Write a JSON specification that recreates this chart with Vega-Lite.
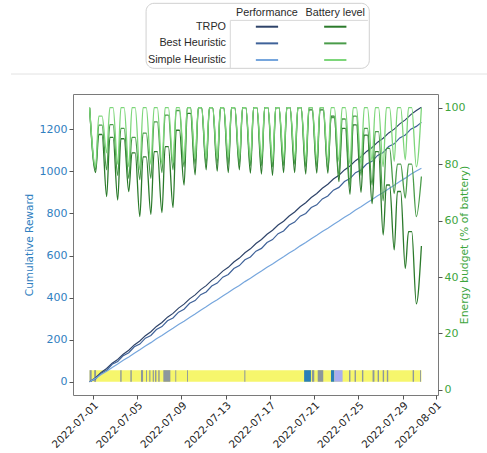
{
  "$schema": "https://vega.github.io/schema/vega-lite/v6.json",
  "padding": {"left": 10, "top": 0, "right": 0, "bottom": 0},
  "bounds": "flush",
  "spacing": 18,
  "config": {"font": "DejaVu Sans", "view": {"stroke": null}},
  "datasets": {
    "legendRows": [
      {"series": "TRPO", "r": 1},
      {"series": "Best Heuristic", "r": 2},
      {"series": "Simple Heuristic", "r": 3}
    ],
    "legendHeaders": [
      {"h": "Performance", "col": 1},
      {"h": "Battery level", "col": 2}
    ],
    "strip": [
      {"t": "2022-06-30T17:00", "t2": "2022-07-30T17:00", "action": "0"},
      {"t": "2022-06-30T17:00", "t2": "2022-06-30T21:30", "action": "1"},
      {"t": "2022-07-01T03:00", "t2": "2022-07-01T07:00", "action": "1"},
      {"t": "2022-07-03T11:30", "t2": "2022-07-03T14:30", "action": "1"},
      {"t": "2022-07-04T09:30", "t2": "2022-07-04T12:30", "action": "1"},
      {"t": "2022-07-05T08:30", "t2": "2022-07-05T13:00", "action": "1"},
      {"t": "2022-07-05T19:30", "t2": "2022-07-05T21:30", "action": "1"},
      {"t": "2022-07-06T02:30", "t2": "2022-07-06T05:00", "action": "1"},
      {"t": "2022-07-06T10:00", "t2": "2022-07-06T12:30", "action": "1"},
      {"t": "2022-07-06T15:00", "t2": "2022-07-06T18:00", "action": "1"},
      {"t": "2022-07-06T22:00", "t2": "2022-07-07T01:00", "action": "1"},
      {"t": "2022-07-07T09:00", "t2": "2022-07-08T00:15", "action": "1"},
      {"t": "2022-07-08T11:00", "t2": "2022-07-08T13:00", "action": "1"},
      {"t": "2022-07-09T12:30", "t2": "2022-07-09T14:30", "action": "1"},
      {"t": "2022-07-14T16:45", "t2": "2022-07-14T19:00", "action": "1"},
      {"t": "2022-07-20T02:30", "t2": "2022-07-20T17:15", "action": "2"},
      {"t": "2022-07-20T19:30", "t2": "2022-07-21T00:30", "action": "1"},
      {"t": "2022-07-21T08:00", "t2": "2022-07-21T20:00", "action": "1"},
      {"t": "2022-07-22T12:45", "t2": "2022-07-22T20:00", "action": "2"},
      {"t": "2022-07-22T20:00", "t2": "2022-07-23T14:00", "action": "3"},
      {"t": "2022-07-24T04:00", "t2": "2022-07-24T07:00", "action": "1"},
      {"t": "2022-07-24T16:00", "t2": "2022-07-24T19:00", "action": "1"},
      {"t": "2022-07-25T08:00", "t2": "2022-07-25T11:00", "action": "1"},
      {"t": "2022-07-26T07:00", "t2": "2022-07-26T11:00", "action": "1"},
      {"t": "2022-07-26T18:00", "t2": "2022-07-26T21:00", "action": "1"},
      {"t": "2022-07-27T05:00", "t2": "2022-07-27T08:00", "action": "1"},
      {"t": "2022-07-27T14:00", "t2": "2022-07-27T17:00", "action": "1"},
      {"t": "2022-07-29T22:00", "t2": "2022-07-30T01:00", "action": "1"},
      {"t": "2022-07-30T14:00", "t2": "2022-07-30T16:00", "action": "1"}
    ],
    "reward": [
      {"t": "2022-06-30T17:00", "TRPO": 0, "Best": 0, "Simple": 0},
      {"t": "2022-07-01T06:00", "TRPO": 19, "Best": 13, "Simple": 16},
      {"t": "2022-07-01T18:00", "TRPO": 44, "Best": 41, "Simple": 34},
      {"t": "2022-07-02T06:00", "TRPO": 63, "Best": 55, "Simple": 50},
      {"t": "2022-07-02T18:00", "TRPO": 88, "Best": 83, "Simple": 68},
      {"t": "2022-07-03T06:00", "TRPO": 106, "Best": 96, "Simple": 84},
      {"t": "2022-07-03T18:00", "TRPO": 131, "Best": 124, "Simple": 102},
      {"t": "2022-07-04T06:00", "TRPO": 150, "Best": 138, "Simple": 118},
      {"t": "2022-07-04T18:00", "TRPO": 175, "Best": 166, "Simple": 136},
      {"t": "2022-07-05T06:00", "TRPO": 194, "Best": 179, "Simple": 152},
      {"t": "2022-07-05T18:00", "TRPO": 219, "Best": 207, "Simple": 170},
      {"t": "2022-07-06T06:00", "TRPO": 238, "Best": 220, "Simple": 186},
      {"t": "2022-07-06T18:00", "TRPO": 263, "Best": 248, "Simple": 204},
      {"t": "2022-07-07T06:00", "TRPO": 282, "Best": 262, "Simple": 220},
      {"t": "2022-07-07T18:00", "TRPO": 307, "Best": 290, "Simple": 238},
      {"t": "2022-07-08T06:00", "TRPO": 325, "Best": 303, "Simple": 254},
      {"t": "2022-07-08T18:00", "TRPO": 350, "Best": 331, "Simple": 272},
      {"t": "2022-07-09T06:00", "TRPO": 369, "Best": 345, "Simple": 288},
      {"t": "2022-07-09T18:00", "TRPO": 394, "Best": 373, "Simple": 306},
      {"t": "2022-07-10T06:00", "TRPO": 413, "Best": 386, "Simple": 322},
      {"t": "2022-07-10T18:00", "TRPO": 438, "Best": 414, "Simple": 340},
      {"t": "2022-07-11T06:00", "TRPO": 457, "Best": 427, "Simple": 356},
      {"t": "2022-07-11T18:00", "TRPO": 482, "Best": 455, "Simple": 374},
      {"t": "2022-07-12T06:00", "TRPO": 501, "Best": 469, "Simple": 390},
      {"t": "2022-07-12T18:00", "TRPO": 526, "Best": 497, "Simple": 408},
      {"t": "2022-07-13T06:00", "TRPO": 544, "Best": 510, "Simple": 424},
      {"t": "2022-07-13T18:00", "TRPO": 569, "Best": 538, "Simple": 442},
      {"t": "2022-07-14T06:00", "TRPO": 588, "Best": 552, "Simple": 458},
      {"t": "2022-07-14T18:00", "TRPO": 613, "Best": 580, "Simple": 476},
      {"t": "2022-07-15T06:00", "TRPO": 632, "Best": 593, "Simple": 492},
      {"t": "2022-07-15T18:00", "TRPO": 657, "Best": 621, "Simple": 510},
      {"t": "2022-07-16T06:00", "TRPO": 676, "Best": 634, "Simple": 526},
      {"t": "2022-07-16T18:00", "TRPO": 701, "Best": 662, "Simple": 544},
      {"t": "2022-07-17T06:00", "TRPO": 720, "Best": 676, "Simple": 560},
      {"t": "2022-07-17T18:00", "TRPO": 745, "Best": 704, "Simple": 578},
      {"t": "2022-07-18T06:00", "TRPO": 763, "Best": 717, "Simple": 594},
      {"t": "2022-07-18T18:00", "TRPO": 788, "Best": 745, "Simple": 612},
      {"t": "2022-07-19T06:00", "TRPO": 807, "Best": 759, "Simple": 628},
      {"t": "2022-07-19T18:00", "TRPO": 832, "Best": 787, "Simple": 646},
      {"t": "2022-07-20T06:00", "TRPO": 851, "Best": 800, "Simple": 662},
      {"t": "2022-07-20T18:00", "TRPO": 876, "Best": 828, "Simple": 680},
      {"t": "2022-07-21T06:00", "TRPO": 895, "Best": 841, "Simple": 696},
      {"t": "2022-07-21T18:00", "TRPO": 920, "Best": 869, "Simple": 714},
      {"t": "2022-07-22T06:00", "TRPO": 939, "Best": 883, "Simple": 730},
      {"t": "2022-07-22T18:00", "TRPO": 964, "Best": 911, "Simple": 748},
      {"t": "2022-07-23T06:00", "TRPO": 982, "Best": 924, "Simple": 764},
      {"t": "2022-07-23T18:00", "TRPO": 1007, "Best": 952, "Simple": 782},
      {"t": "2022-07-24T06:00", "TRPO": 1026, "Best": 966, "Simple": 798},
      {"t": "2022-07-24T18:00", "TRPO": 1051, "Best": 994, "Simple": 816},
      {"t": "2022-07-25T06:00", "TRPO": 1070, "Best": 1007, "Simple": 832},
      {"t": "2022-07-25T18:00", "TRPO": 1095, "Best": 1035, "Simple": 850},
      {"t": "2022-07-26T06:00", "TRPO": 1114, "Best": 1048, "Simple": 866},
      {"t": "2022-07-26T18:00", "TRPO": 1139, "Best": 1076, "Simple": 884},
      {"t": "2022-07-27T06:00", "TRPO": 1158, "Best": 1090, "Simple": 900},
      {"t": "2022-07-27T18:00", "TRPO": 1183, "Best": 1118, "Simple": 918},
      {"t": "2022-07-28T06:00", "TRPO": 1201, "Best": 1131, "Simple": 934},
      {"t": "2022-07-28T18:00", "TRPO": 1226, "Best": 1159, "Simple": 952},
      {"t": "2022-07-29T06:00", "TRPO": 1245, "Best": 1173, "Simple": 968},
      {"t": "2022-07-29T18:00", "TRPO": 1270, "Best": 1201, "Simple": 986},
      {"t": "2022-07-30T06:00", "TRPO": 1289, "Best": 1214, "Simple": 1002},
      {"t": "2022-07-30T17:00", "TRPO": 1305, "Best": 1233, "Simple": 1015}
    ],
    "battery": [
      {"t": "2022-06-30T17:00", "TRPO": 100, "Best": 100, "Simple": 100},
      {"t": "2022-07-01T06:00", "TRPO": 77, "Best": 78, "Simple": 79},
      {"t": "2022-07-01T13:00", "TRPO": 90.5, "Best": 93.8, "Simple": 97},
      {"t": "2022-07-01T20:00", "TRPO": 90.5, "Best": 93.8, "Simple": 97},
      {"t": "2022-07-02T06:00", "TRPO": 68.5, "Best": 78, "Simple": 84},
      {"t": "2022-07-02T13:00", "TRPO": 89.5, "Best": 94, "Simple": 100},
      {"t": "2022-07-02T20:00", "TRPO": 89.5, "Best": 94, "Simple": 100},
      {"t": "2022-07-03T06:00", "TRPO": 67.3, "Best": 76, "Simple": 80},
      {"t": "2022-07-03T13:00", "TRPO": 89, "Best": 92.7, "Simple": 100},
      {"t": "2022-07-03T20:00", "TRPO": 89, "Best": 92.7, "Simple": 100},
      {"t": "2022-07-04T06:00", "TRPO": 70.3, "Best": 75, "Simple": 79},
      {"t": "2022-07-04T13:00", "TRPO": 84, "Best": 89.5, "Simple": 100},
      {"t": "2022-07-04T20:00", "TRPO": 84, "Best": 89.5, "Simple": 100},
      {"t": "2022-07-05T06:00", "TRPO": 61.4, "Best": 74.5, "Simple": 78},
      {"t": "2022-07-05T13:00", "TRPO": 82.6, "Best": 91, "Simple": 100},
      {"t": "2022-07-05T20:00", "TRPO": 82.6, "Best": 91, "Simple": 100},
      {"t": "2022-07-06T06:00", "TRPO": 62.2, "Best": 75, "Simple": 80},
      {"t": "2022-07-06T13:00", "TRPO": 84.4, "Best": 95, "Simple": 100},
      {"t": "2022-07-06T20:00", "TRPO": 84.4, "Best": 95, "Simple": 100},
      {"t": "2022-07-07T06:00", "TRPO": 62.8, "Best": 77, "Simple": 80},
      {"t": "2022-07-07T13:00", "TRPO": 86.2, "Best": 97.4, "Simple": 100},
      {"t": "2022-07-07T20:00", "TRPO": 86.2, "Best": 97.4, "Simple": 100},
      {"t": "2022-07-08T06:00", "TRPO": 64.6, "Best": 78, "Simple": 80.5},
      {"t": "2022-07-08T13:00", "TRPO": 92, "Best": 99, "Simple": 100},
      {"t": "2022-07-08T20:00", "TRPO": 92, "Best": 99, "Simple": 100},
      {"t": "2022-07-09T06:00", "TRPO": 72.6, "Best": 79, "Simple": 81},
      {"t": "2022-07-09T13:00", "TRPO": 98, "Best": 100, "Simple": 100},
      {"t": "2022-07-09T20:00", "TRPO": 98, "Best": 100, "Simple": 100},
      {"t": "2022-07-10T06:00", "TRPO": 76.2, "Best": 80, "Simple": 82},
      {"t": "2022-07-10T13:00", "TRPO": 100, "Best": 100, "Simple": 100},
      {"t": "2022-07-10T20:00", "TRPO": 100, "Best": 100, "Simple": 100},
      {"t": "2022-07-11T06:00", "TRPO": 78, "Best": 80, "Simple": 82},
      {"t": "2022-07-11T13:00", "TRPO": 100, "Best": 100, "Simple": 100},
      {"t": "2022-07-11T20:00", "TRPO": 100, "Best": 100, "Simple": 100},
      {"t": "2022-07-12T06:00", "TRPO": 77.5, "Best": 80.5, "Simple": 82},
      {"t": "2022-07-12T13:00", "TRPO": 100, "Best": 100, "Simple": 100},
      {"t": "2022-07-12T20:00", "TRPO": 100, "Best": 100, "Simple": 100},
      {"t": "2022-07-13T06:00", "TRPO": 77, "Best": 80, "Simple": 82.5},
      {"t": "2022-07-13T13:00", "TRPO": 100, "Best": 100, "Simple": 100},
      {"t": "2022-07-13T20:00", "TRPO": 100, "Best": 100, "Simple": 100},
      {"t": "2022-07-14T06:00", "TRPO": 78, "Best": 80, "Simple": 82},
      {"t": "2022-07-14T13:00", "TRPO": 100, "Best": 100, "Simple": 100},
      {"t": "2022-07-14T20:00", "TRPO": 100, "Best": 100, "Simple": 100},
      {"t": "2022-07-15T06:00", "TRPO": 76.8, "Best": 79.5, "Simple": 81.5},
      {"t": "2022-07-15T13:00", "TRPO": 100, "Best": 100, "Simple": 100},
      {"t": "2022-07-15T20:00", "TRPO": 100, "Best": 100, "Simple": 100},
      {"t": "2022-07-16T06:00", "TRPO": 76.5, "Best": 79.5, "Simple": 82},
      {"t": "2022-07-16T13:00", "TRPO": 100, "Best": 100, "Simple": 100},
      {"t": "2022-07-16T20:00", "TRPO": 100, "Best": 100, "Simple": 100},
      {"t": "2022-07-17T06:00", "TRPO": 76, "Best": 79, "Simple": 81},
      {"t": "2022-07-17T13:00", "TRPO": 100, "Best": 100, "Simple": 100},
      {"t": "2022-07-17T20:00", "TRPO": 100, "Best": 100, "Simple": 100},
      {"t": "2022-07-18T06:00", "TRPO": 77, "Best": 79.5, "Simple": 82},
      {"t": "2022-07-18T13:00", "TRPO": 100, "Best": 100, "Simple": 100},
      {"t": "2022-07-18T20:00", "TRPO": 100, "Best": 100, "Simple": 100},
      {"t": "2022-07-19T06:00", "TRPO": 77, "Best": 80, "Simple": 82},
      {"t": "2022-07-19T13:00", "TRPO": 100, "Best": 100, "Simple": 100},
      {"t": "2022-07-19T20:00", "TRPO": 100, "Best": 100, "Simple": 100},
      {"t": "2022-07-20T06:00", "TRPO": 76.5, "Best": 79, "Simple": 81.5},
      {"t": "2022-07-20T13:00", "TRPO": 99.2, "Best": 100, "Simple": 100},
      {"t": "2022-07-20T20:00", "TRPO": 99.2, "Best": 100, "Simple": 100},
      {"t": "2022-07-21T06:00", "TRPO": 76.8, "Best": 79, "Simple": 81.5},
      {"t": "2022-07-21T13:00", "TRPO": 99.2, "Best": 100, "Simple": 100},
      {"t": "2022-07-21T20:00", "TRPO": 99.2, "Best": 100, "Simple": 100},
      {"t": "2022-07-22T06:00", "TRPO": 76.8, "Best": 78, "Simple": 81},
      {"t": "2022-07-22T13:00", "TRPO": 97, "Best": 96.5, "Simple": 100},
      {"t": "2022-07-22T20:00", "TRPO": 97, "Best": 96.5, "Simple": 100},
      {"t": "2022-07-23T06:00", "TRPO": 73.8, "Best": 76, "Simple": 81},
      {"t": "2022-07-23T13:00", "TRPO": 92.7, "Best": 96, "Simple": 100},
      {"t": "2022-07-23T20:00", "TRPO": 92.7, "Best": 96, "Simple": 100},
      {"t": "2022-07-24T06:00", "TRPO": 69.3, "Best": 72, "Simple": 80},
      {"t": "2022-07-24T13:00", "TRPO": 93.9, "Best": 97, "Simple": 100},
      {"t": "2022-07-24T20:00", "TRPO": 93.9, "Best": 97, "Simple": 100},
      {"t": "2022-07-25T06:00", "TRPO": 70, "Best": 76, "Simple": 80},
      {"t": "2022-07-25T13:00", "TRPO": 90.3, "Best": 92.7, "Simple": 100},
      {"t": "2022-07-25T20:00", "TRPO": 90.3, "Best": 92.7, "Simple": 100},
      {"t": "2022-07-26T06:00", "TRPO": 66, "Best": 72.6, "Simple": 81},
      {"t": "2022-07-26T13:00", "TRPO": 84.4, "Best": 91.5, "Simple": 100},
      {"t": "2022-07-26T20:00", "TRPO": 84.4, "Best": 91.5, "Simple": 100},
      {"t": "2022-07-27T06:00", "TRPO": 54.9, "Best": 67, "Simple": 79},
      {"t": "2022-07-27T13:00", "TRPO": 72.6, "Best": 85.6, "Simple": 100},
      {"t": "2022-07-27T20:00", "TRPO": 72.6, "Best": 85.6, "Simple": 100},
      {"t": "2022-07-28T06:00", "TRPO": 49.6, "Best": 69.6, "Simple": 81},
      {"t": "2022-07-28T13:00", "TRPO": 70.3, "Best": 80, "Simple": 100},
      {"t": "2022-07-28T20:00", "TRPO": 70.3, "Best": 80, "Simple": 100},
      {"t": "2022-07-29T06:00", "TRPO": 43.1, "Best": 68, "Simple": 81.5},
      {"t": "2022-07-29T13:00", "TRPO": 56.1, "Best": 80, "Simple": 100},
      {"t": "2022-07-29T20:00", "TRPO": 56.1, "Best": 80, "Simple": 100},
      {"t": "2022-07-30T06:00", "TRPO": 30.5, "Best": 61.4, "Simple": 79},
      {"t": "2022-07-30T17:00", "TRPO": 51, "Best": 75.6, "Simple": 100}
    ]
  },
  "vconcat": [
    {
      "width": 365,
      "height": 76,
      "view": {"stroke": null},
      "resolve": {"scale": {"color": "independent"}},
      "layer": [
        {
          "data": {"values": [{}]},
          "mark": {"type": "rect", "fill": "white", "stroke": "#d0d0d0", "strokeWidth": 1, "cornerRadius": 8},
          "encoding": {
            "x": {"datum": -0.77, "type": "quantitative", "scale": {"domain": [-1.84, 3.504], "nice": false, "zero": false}, "axis": null},
            "x2": {"datum": 2.498},
            "y": {"datum": -0.405, "type": "quantitative", "scale": {"domain": [-0.604, 3.96], "nice": false, "zero": false, "reverse": true}, "axis": null},
            "y2": {"datum": 3.5}
          }
        },
        {
          "data": {"values": [{}]},
          "mark": {"type": "rule", "stroke": "#d8d8d8", "strokeWidth": 1},
          "encoding": {
            "x": {"datum": 0.463, "type": "quantitative"},
            "x2": {"datum": 2.478},
            "y": {"datum": 0.62, "type": "quantitative"}
          }
        },
        {
          "data": {"values": [{}]},
          "mark": {"type": "rule", "stroke": "#d8d8d8", "strokeWidth": 1},
          "encoding": {
            "x": {"datum": 0.463, "type": "quantitative"},
            "y": {"datum": 0.62, "type": "quantitative"},
            "y2": {"datum": 3.5}
          }
        },
        {
          "data": {"values": [{}]},
          "mark": {"type": "rule", "stroke": "#e2e2e2", "strokeWidth": 1},
          "encoding": {
            "x": {"datum": -2.748, "type": "quantitative"},
            "x2": {"datum": 4.236},
            "y": {"datum": 3.84, "type": "quantitative"}
          }
        },
        {
          "data": {"name": "legendHeaders"},
          "mark": {"type": "text", "font": "Liberation Sans", "fontSize": 10.8, "color": "#2a2a2a", "baseline": "middle", "align": "center"},
          "encoding": {
            "x": {"field": "col", "type": "quantitative"},
            "y": {"datum": 0.18, "type": "quantitative"},
            "text": {"field": "h"}
          }
        },
        {
          "data": {"name": "legendRows"},
          "mark": {"type": "text", "font": "Liberation Sans", "fontSize": 10.8, "color": "#2a2a2a", "baseline": "middle", "align": "right"},
          "encoding": {
            "x": {"datum": 0.4, "type": "quantitative"},
            "y": {"field": "r", "type": "quantitative"},
            "text": {"field": "series"}
          }
        },
        {
          "data": {"name": "legendRows"},
          "mark": {"type": "rule", "strokeWidth": 2},
          "encoding": {
            "x": {"datum": 0.837, "type": "quantitative"},
            "x2": {"datum": 1.163},
            "y": {"field": "r", "type": "quantitative"},
            "color": {"field": "series", "type": "nominal", "legend": null, "scale": {"domain": ["TRPO", "Best Heuristic", "Simple Heuristic"], "range": ["#2e4369", "#3f6299", "#76a6dd"]}}
          }
        },
        {
          "data": {"name": "legendRows"},
          "mark": {"type": "rule", "strokeWidth": 2},
          "encoding": {
            "x": {"datum": 1.837, "type": "quantitative"},
            "x2": {"datum": 2.163},
            "y": {"field": "r", "type": "quantitative"},
            "color": {"field": "series", "type": "nominal", "legend": null, "scale": {"domain": ["TRPO", "Best Heuristic", "Simple Heuristic"], "range": ["#2b7a2b", "#4a9c4a", "#7dd67a"]}}
          }
        }
      ]
    },
    {
      "width": 365,
      "height": 301,
      "view": {"stroke": "#7a7a7a", "strokeWidth": 1},
      "encoding": {
        "x": {
          "field": "t",
          "type": "temporal",
          "scale": {"domain": [{"year": 2022, "month": 6, "date": 29, "hours": 5}, {"year": 2022, "month": 8, "date": 1, "hours": 5}]},
          "axis": {
            "title": null,
            "grid": false,
            "domain": false,
            "values": [
              {"year": 2022, "month": 7, "date": 1},
              {"year": 2022, "month": 7, "date": 5},
              {"year": 2022, "month": 7, "date": 9},
              {"year": 2022, "month": 7, "date": 13},
              {"year": 2022, "month": 7, "date": 17},
              {"year": 2022, "month": 7, "date": 21},
              {"year": 2022, "month": 7, "date": 25},
              {"year": 2022, "month": 7, "date": 29},
              {"year": 2022, "month": 8, "date": 1}
            ],
            "format": "%Y-%m-%d",
            "labelAngle": -45,
            "labelOverlap": false,
            "labelFontSize": 10.4,
            "labelColor": "#222222",
            "tickSize": 4,
            "tickColor": "#555555",
            "labelPadding": 1
          }
        }
      },
      "resolve": {"scale": {"y": "independent", "color": "independent"}},
      "layer": [
        {
          "resolve": {"scale": {"color": "independent"}},
          "layer": [
            {
              "data": {"name": "strip"},
              "mark": {"type": "rect"},
              "encoding": {
                "x2": {"field": "t2"},
                "y": {"datum": 0, "type": "quantitative"},
                "y2": {"datum": 55},
                "color": {"field": "action", "type": "nominal", "legend": null, "scale": {"domain": ["0", "1", "2", "3"], "range": ["#f6f66c", "#8d979c", "#2a7fb8", "#a9adf0"]}}
              }
            },
            {
              "data": {"name": "reward"},
              "transform": [{"fold": ["TRPO", "Best", "Simple"], "as": ["series", "v"]}],
              "mark": {"type": "line", "strokeWidth": 1.2},
              "encoding": {
                "y": {
                  "field": "v",
                  "type": "quantitative",
                  "scale": {"domain": [-63, 1368], "nice": false, "zero": false},
                  "axis": {
                    "title": "Cumulative Reward",
                    "titleColor": "#2f80c0",
                    "titleFontWeight": "normal",
                    "titleFontSize": 10.5,
                    "titlePadding": 5,
                    "labelColor": "#2f80c0",
                    "labelFontSize": 11,
                    "format": "d",
                    "values": [0, 200, 400, 600, 800, 1000, 1200],
                    "grid": false,
                    "domain": false,
                    "tickSize": 4,
                    "tickColor": "#555555",
                    "labelPadding": 2
                  }
                },
                "color": {"field": "series", "type": "nominal", "legend": null, "scale": {"domain": ["TRPO", "Best", "Simple"], "range": ["#2e4369", "#3f6299", "#76a6dd"]}}
              }
            }
          ]
        },
        {
          "data": {"name": "battery"},
          "transform": [{"fold": ["TRPO", "Best", "Simple"], "as": ["series", "v"]}],
          "mark": {"type": "line", "strokeWidth": 1.3, "interpolate": "monotone"},
          "encoding": {
            "y": {
              "field": "v",
              "type": "quantitative",
              "scale": {"domain": [-1.8, 104.85], "nice": false, "zero": false},
              "axis": {
                "orient": "right",
                "title": "Energy budget (% of battery)",
                "titleAngle": 270,
                "titleColor": "#3da53d",
                "titleFontWeight": "normal",
                "titleFontSize": 10.8,
                "titlePadding": 5,
                "labelColor": "#3da53d",
                "labelFontSize": 11,
                "values": [0, 20, 40, 60, 80, 100],
                "grid": false,
                "domain": false,
                "tickSize": 4,
                "tickColor": "#555555",
                "labelPadding": 2
              }
            },
            "color": {"field": "series", "type": "nominal", "legend": null, "scale": {"domain": ["TRPO", "Best", "Simple"], "range": ["#2b7a2b", "#4a9c4a", "#7dd67a"]}}
          }
        }
      ]
    }
  ]
}
